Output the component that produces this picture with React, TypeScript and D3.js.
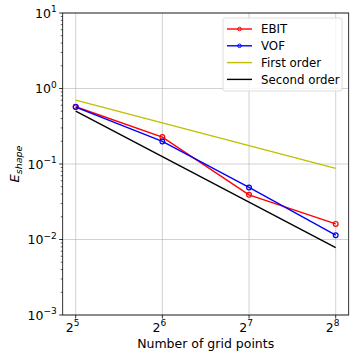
import React, { useEffect, useRef } from "react";
import * as d3 from "d3";

const gridPoints = [32, 64, 128, 256];
const ebit = [0.573, 0.227, 0.039, 0.0161];
const vof = [0.567, 0.199, 0.0489, 0.0114];
const firstOrder = [0.7, 0.35, 0.175, 0.0875];
const secondOrder = [0.5, 0.125, 0.03125, 0.0078];
const yTicks = [1e-3, 1e-2, 1e-1, 1e0, 1e1];
const xExponents = [5, 6, 7, 8];

const series = [
  { name: "EBIT", values: ebit, color: "#ff0000", marker: true },
  { name: "VOF", values: vof, color: "#0000ff", marker: true },
  { name: "First order", values: firstOrder, color: "#bfbf00", marker: false },
  { name: "Second order", values: secondOrder, color: "#000000", marker: false },
];

export default function App() {
  const ref = useRef<SVGSVGElement>(null);

  useEffect(() => {
    const svg = d3.select(ref.current);
    svg.selectAll("*").remove();

    const margin = { top: 13, right: 8.3, bottom: 42, left: 62.7 };
    const width = 357 - margin.left - margin.right;
    const height = 357 - margin.top - margin.bottom;
    const font = "DejaVu Sans, sans-serif";

    const x = d3.scaleLog().base(2).domain([Math.pow(2, 4.85), Math.pow(2, 8.15)]).range([0, width]);
    const y = d3.scaleLog().domain([1e-3, 1e1]).range([height, 0]);

    const g = svg.append("g").attr("transform", `translate(${margin.left},${margin.top})`);

    // grid
    g.selectAll(".gx")
      .data(gridPoints)
      .enter()
      .append("line")
      .attr("x1", (d) => x(d))
      .attr("x2", (d) => x(d))
      .attr("y1", 0)
      .attr("y2", height)
      .attr("stroke", "#b0b0b0")
      .attr("stroke-width", 0.8)
      .attr("opacity", 0.7);
    g.selectAll(".gy")
      .data(yTicks)
      .enter()
      .append("line")
      .attr("x1", 0)
      .attr("x2", width)
      .attr("y1", (d) => y(d))
      .attr("y2", (d) => y(d))
      .attr("stroke", "#b0b0b0")
      .attr("stroke-width", 0.8)
      .attr("opacity", 0.7);

    // minor y ticks
    const minor: number[] = [];
    for (let e = -3; e < 1; e++) for (let m = 2; m <= 9; m++) minor.push(m * Math.pow(10, e));
    g.selectAll(".my")
      .data(minor)
      .enter()
      .append("line")
      .attr("x1", -2)
      .attr("x2", 0)
      .attr("y1", (d) => y(d))
      .attr("y2", (d) => y(d))
      .attr("stroke", "#000")
      .attr("stroke-width", 0.6);
    g.selectAll(".ty")
      .data(yTicks)
      .enter()
      .append("line")
      .attr("x1", -3.5)
      .attr("x2", 0)
      .attr("y1", (d) => y(d))
      .attr("y2", (d) => y(d))
      .attr("stroke", "#000")
      .attr("stroke-width", 0.8);
    g.selectAll(".tx")
      .data(gridPoints)
      .enter()
      .append("line")
      .attr("x1", (d) => x(d))
      .attr("x2", (d) => x(d))
      .attr("y1", height)
      .attr("y2", height + 3.5)
      .attr("stroke", "#000")
      .attr("stroke-width", 0.8);

    // y tick labels
    yTicks.forEach((t) => {
      const e = Math.round(Math.log10(t));
      const txt = g
        .append("text")
        .attr("x", -6)
        .attr("y", y(t) + 4.5)
        .attr("text-anchor", "end")
        .attr("font-family", font)
        .attr("font-size", 12.5)
        .text("10");
      txt
        .append("tspan")
        .attr("dy", -5.5)
        .attr("font-size", 9)
        .text(String(e).replace("-", "−"));
    });

    // x tick labels
    xExponents.forEach((e, i) => {
      const txt = g
        .append("text")
        .attr("x", x(gridPoints[i]) - 3)
        .attr("y", height + 16.5)
        .attr("text-anchor", "middle")
        .attr("font-family", font)
        .attr("font-size", 12.5)
        .text("2");
      txt.append("tspan").attr("dy", -5.5).attr("font-size", 9).text(String(e));
    });

    // lines
    const line = d3
      .line<number>()
      .x((_, i) => x(gridPoints[i]))
      .y((d) => y(d));
    series.forEach((s) => {
      g.append("path")
        .attr("d", line(s.values))
        .attr("fill", "none")
        .attr("stroke", s.color)
        .attr("stroke-width", 1.4);
      if (s.marker) {
        g.selectAll(null)
          .data(s.values)
          .enter()
          .append("circle")
          .attr("cx", (_, i) => x(gridPoints[i]))
          .attr("cy", (d) => y(d))
          .attr("r", 2.4)
          .attr("fill", "none")
          .attr("stroke", s.color)
          .attr("stroke-width", 1.2);
      }
    });

    // frame
    g.append("rect")
      .attr("width", width)
      .attr("height", height)
      .attr("fill", "none")
      .attr("stroke", "#000")
      .attr("stroke-width", 0.8);

    // legend
    const lg = g.append("g").attr("transform", `translate(${223 - margin.left},${18 - margin.top})`);
    lg.append("rect")
      .attr("width", 119)
      .attr("height", 73)
      .attr("rx", 2)
      .attr("fill", "#fff")
      .attr("fill-opacity", 0.8)
      .attr("stroke", "#d6d6d6")
      .attr("stroke-width", 0.8);
    series.forEach((s, i) => {
      const yy = 11 + i * 16.8;
      lg.append("line")
        .attr("x1", 4)
        .attr("x2", 29)
        .attr("y1", yy)
        .attr("y2", yy)
        .attr("stroke", s.color)
        .attr("stroke-width", 1.4);
      if (s.marker) {
        lg.append("circle")
          .attr("cx", 16.5)
          .attr("cy", yy)
          .attr("r", 1.8)
          .attr("fill", "none")
          .attr("stroke", s.color)
          .attr("stroke-width", 1);
      }
      lg.append("text")
        .attr("x", 38)
        .attr("y", yy + 4.2)
        .attr("font-family", font)
        .attr("font-size", 11.8)
        .text(s.name);
    });

    // axis labels
    svg
      .append("text")
      .attr("x", margin.left + width / 2)
      .attr("y", 348)
      .attr("text-anchor", "middle")
      .attr("font-family", font)
      .attr("font-size", 12.5)
      .text("Number of grid points");

    const yl = svg
      .append("text")
      .attr("transform", `translate(19,${margin.top + height / 2}) rotate(-90)`)
      .attr("text-anchor", "middle")
      .attr("font-family", font)
      .attr("font-size", 13)
      .attr("font-style", "italic")
      .text("E");
    yl.append("tspan").attr("dy", 3).attr("font-size", 9.5).text("shape");
  }, []);

  return (
    <svg
      ref={ref}
      width={357}
      height={357}
      style={{ position: "absolute", left: 0, top: 0, background: "#fff" }}
    />
  );
}
